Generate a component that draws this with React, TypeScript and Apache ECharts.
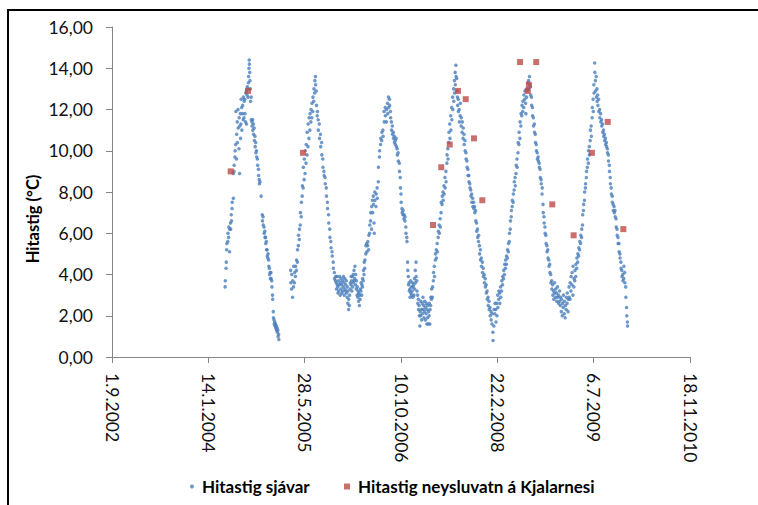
import React, { useEffect, useRef } from "react";
import * as echarts from "echarts";

// Axis range in Excel-style serial days (1.9.2002 = 37500, 18.11.2010 = 40500)
const X_MIN_DATE = "2002-09-01";
const X_MAX_DATE = "2010-11-18";
const X_STEP_DAYS = 500;
const Y_MIN = 0;
const Y_MAX = 16;
const Y_STEP = 2;

const SEA_NAME = "Hitastig sjávar";
const FRESH_NAME = "Hitastig neysluvatn á Kjalarnesi";
const Y_TITLE = "Hitastig (°C)";

// Sea temperature: each row is a start date followed by readings on consecutive days
const SEA_2004 = [
  ["2004-04-10", 3.4, 3.7], ["2004-04-15", 4.3, 4.6], ["2004-04-18", 5.2, 5.5],
  ["2004-04-24", 5.6, 6.0], ["2004-04-28", 5.8, 6.3], ["2004-05-03", 5.1, 6.2],
  ["2004-05-08", 6.5, 6.2], ["2004-05-12", 6.9, 6.6], ["2004-05-16", 7.2, 7.5],
  ["2004-05-22", 8.9, 7.7], ["2004-05-26", 9.0, 9.3], ["2004-05-31", 9.7, 10.0],
  ["2004-06-04", 10.3, 11.9], ["2004-06-08", 9.6, 10.8], ["2004-06-12", 11.4, 10.4],
  ["2004-06-16", 12.0, 11.1], ["2004-06-21", 10.1, 11.6], ["2004-06-24", 8.9, 11.2],
  ["2004-06-28", 11.8, 10.6], ["2004-07-01", 11.3, 12.5], ["2004-07-05", 12.1, 11.0],
  ["2004-07-09", 11.8, 12.2], ["2004-07-13", 11.5, 12.6], ["2004-07-17", 11.6, 12.4],
  ["2004-07-21", 12.5, 11.8], ["2004-07-25", 11.4, 12.8], ["2004-07-29", 12.9, 11.3],
  ["2004-08-02", 12.7, 13.1], ["2004-08-06", 13.0, 12.6], ["2004-08-09", 13.3, 13.6],
  ["2004-08-12", 14.0, 14.4, 14.2], ["2004-08-16", 13.8, 13.4], ["2004-08-19", 13.0, 12.4],
  ["2004-08-23", 12.6, 11.5], ["2004-08-27", 11.4, 11.2], ["2004-08-31", 11.5, 11.0],
  ["2004-09-04", 11.3, 10.8], ["2004-09-08", 11.1, 10.5], ["2004-09-12", 10.7, 10.2],
  ["2004-09-16", 10.4, 9.9], ["2004-09-20", 10.0, 9.7], ["2004-09-25", 9.6, 9.3],
  ["2004-09-30", 9.1, 8.8], ["2004-10-04", 8.6, 8.4], ["2004-10-08", 8.5],
  ["2004-10-14", 7.8], ["2004-10-20", 6.9, 6.6], ["2004-10-24", 6.8, 6.4],
  ["2004-10-29", 6.3, 6.0], ["2004-11-02", 6.1, 5.8], ["2004-11-06", 5.8, 5.5],
  ["2004-11-10", 5.6, 5.2], ["2004-11-14", 5.2, 4.9], ["2004-11-18", 4.8, 5.0],
  ["2004-11-22", 4.7, 4.4], ["2004-11-26", 4.3, 4.0], ["2004-11-30", 4.1, 3.8],
  ["2004-12-04", 4.1, 3.8], ["2004-12-08", 3.7, 3.4], ["2004-12-12", 3.0, 2.8],
  ["2004-12-16", 2.2, 1.9], ["2004-12-20", 1.8, 1.6], ["2004-12-24", 1.7, 1.5],
  ["2004-12-28", 1.6, 1.4], ["2005-01-01", 1.5, 1.3], ["2005-01-05", 1.4, 1.2],
  ["2005-01-09", 1.3, 1.0], ["2005-01-13", 1.1, 0.85],
];

const SEA_2005 = [
  ["2005-03-16", 4.2, 3.6], ["2005-03-21", 3.3, 4.0], ["2005-03-26", 2.9, 3.7],
  ["2005-03-31", 3.4, 4.4], ["2005-04-05", 3.6, 4.1], ["2005-04-10", 3.9, 4.4],
  ["2005-04-15", 4.2, 4.7], ["2005-04-20", 4.6, 5.2], ["2005-04-25", 5.4, 5.9],
  ["2005-04-30", 5.7, 6.2], ["2005-05-05", 6.4, 7.0], ["2005-05-10", 6.8, 7.5],
  ["2005-05-15", 7.8, 8.3], ["2005-05-20", 8.2, 9.2], ["2005-05-25", 8.6, 9.6],
  ["2005-05-30", 8.9, 10.0], ["2005-06-04", 9.4, 10.3], ["2005-06-09", 9.8, 10.9],
  ["2005-06-14", 10.2, 11.3], ["2005-06-19", 10.6, 11.6], ["2005-06-24", 11.0, 11.8],
  ["2005-06-29", 11.4, 12.0], ["2005-07-04", 11.6, 12.3], ["2005-07-09", 11.9, 12.6],
  ["2005-07-14", 12.4, 13.0], ["2005-07-19", 12.8, 13.4], ["2005-07-23", 13.6, 13.2],
  ["2005-07-27", 12.9, 12.2], ["2005-08-01", 11.7, 11.9], ["2005-08-06", 11.5, 11.0],
  ["2005-08-12", 11.3, 10.6], ["2005-08-18", 10.8, 10.2], ["2005-08-24", 10.4, 9.8],
  ["2005-08-30", 9.6, 9.2], ["2005-09-05", 9.0, 8.8], ["2005-09-11", 8.7, 8.4],
  ["2005-09-17", 8.2, 7.8], ["2005-09-23", 7.5, 7.2], ["2005-09-29", 6.9, 6.5],
  ["2005-10-05", 6.2, 5.8], ["2005-10-11", 5.6, 5.3], ["2005-10-17", 5.1, 4.9],
  ["2005-10-23", 4.6, 4.3], ["2005-10-29", 4.1, 3.8],
  ["2005-11-04", 3.7, 3.9], ["2005-11-08", 3.6, 3.3], ["2005-11-12", 3.9, 3.5],
  ["2005-11-16", 3.4, 3.1], ["2005-11-20", 3.7, 3.2], ["2005-11-24", 3.5, 3.9],
  ["2005-11-28", 3.0, 3.6], ["2005-12-02", 3.3, 3.8], ["2005-12-06", 3.5, 3.1],
  ["2005-12-10", 3.7, 3.2], ["2005-12-14", 3.4, 3.9], ["2005-12-18", 3.6, 3.0],
  ["2005-12-22", 3.8, 3.3], ["2005-12-26", 3.2, 3.5], ["2005-12-30", 3.7, 3.1],
  ["2006-01-03", 2.9, 3.4], ["2006-01-07", 2.6, 3.2], ["2006-01-11", 2.3, 2.8],
  ["2006-01-15", 2.5, 3.0], ["2006-01-19", 3.3, 3.6], ["2006-01-23", 3.5, 3.9],
  ["2006-01-27", 3.7, 3.2], ["2006-01-31", 3.9, 3.4], ["2006-02-04", 4.0, 3.6],
  ["2006-02-08", 4.2, 3.7], ["2006-02-12", 3.8, 4.4], ["2006-02-16", 3.5, 4.0],
  ["2006-02-20", 3.3, 3.7], ["2006-02-24", 3.0, 3.4], ["2006-02-28", 2.9, 3.2],
  ["2006-03-04", 2.7, 3.1], ["2006-03-08", 2.5, 3.0], ["2006-03-12", 2.8, 3.3],
  ["2006-03-16", 3.2, 3.6], ["2006-03-20", 3.0, 3.5], ["2006-03-24", 3.4, 3.8],
  ["2006-03-28", 3.7, 4.2], ["2006-04-01", 4.0, 4.6],
];

const SEA_2006 = [
  ["2006-04-05", 4.3, 4.7], ["2006-04-10", 5.0, 5.4], ["2006-04-15", 5.5, 5.1],
  ["2006-04-20", 5.4, 5.6], ["2006-04-25", 5.2, 5.9], ["2006-04-30", 6.0, 6.4],
  ["2006-05-05", 6.6, 7.0], ["2006-05-10", 6.2, 7.3], ["2006-05-15", 7.6, 7.0],
  ["2006-05-19", 7.8, 7.4], ["2006-05-23", 6.5, 6.0], ["2006-05-27", 8.0, 7.6],
  ["2006-06-02", 7.3, 7.9], ["2006-06-08", 8.2, 7.7], ["2006-06-14", 8.5, 9.2],
  ["2006-06-20", 9.7, 10.0], ["2006-06-26", 10.3, 10.6], ["2006-07-02", 10.5, 10.9],
  ["2006-07-08", 11.0, 10.7], ["2006-07-14", 11.9, 11.4], ["2006-07-20", 12.1, 11.7],
  ["2006-07-26", 11.4, 12.0], ["2006-08-01", 12.3, 11.8], ["2006-08-06", 12.6, 12.1],
  ["2006-08-11", 12.5, 12.2], ["2006-08-16", 11.9, 11.6], ["2006-08-21", 11.4, 11.0],
  ["2006-08-26", 11.2, 10.8], ["2006-08-31", 10.9, 10.6], ["2006-09-05", 10.7, 10.4],
  ["2006-09-10", 10.5, 10.3], ["2006-09-15", 10.6, 10.2], ["2006-09-20", 10.1, 9.8],
  ["2006-09-25", 9.9, 9.5], ["2006-10-01", 9.4, 9.0], ["2006-10-06", 8.7, 8.2],
  ["2006-10-10", 7.9, 7.5], ["2006-10-15", 7.2, 7.0], ["2006-10-20", 6.9, 7.1],
  ["2006-10-25", 6.7, 6.9], ["2006-10-30", 6.6, 6.8], ["2006-11-04", 6.3, 6.0],
  ["2006-11-09", 5.8, 5.6], ["2006-11-13", 4.6, 4.2], ["2006-11-17", 3.9, 3.5],
  ["2006-11-21", 3.6, 3.2], ["2006-11-25", 3.3, 2.9], ["2006-11-29", 3.7, 3.1],
  ["2006-12-03", 3.4, 3.0], ["2006-12-07", 3.2, 3.6], ["2006-12-11", 2.9, 3.4],
  ["2006-12-15", 3.5, 3.0], ["2006-12-19", 3.8, 3.3], ["2006-12-23", 4.2, 3.6],
  ["2006-12-27", 4.6, 3.9], ["2006-12-31", 3.7, 3.2], ["2007-01-04", 3.0, 2.6],
  ["2007-01-08", 2.8, 2.3], ["2007-01-12", 2.5, 2.0], ["2007-01-16", 1.5, 2.2],
  ["2007-01-20", 2.0, 2.7], ["2007-01-24", 2.3, 1.8], ["2007-01-28", 2.6, 2.1],
  ["2007-02-01", 2.9, 2.3], ["2007-02-05", 2.5, 1.9], ["2007-02-09", 2.2, 2.7],
  ["2007-02-13", 1.8, 2.4], ["2007-02-17", 2.1, 2.6], ["2007-02-21", 1.6, 2.3],
  ["2007-02-25", 1.9, 2.5], ["2007-03-01", 1.6, 2.2], ["2007-03-05", 2.0, 2.6],
  ["2007-03-09", 1.6, 2.3], ["2007-03-13", 2.5, 2.9], ["2007-03-17", 2.8, 3.3],
];

const SEA_2007 = [
  ["2007-03-22", 2.9, 3.4], ["2007-03-27", 3.7, 4.1], ["2007-04-01", 4.4, 3.9],
  ["2007-04-06", 4.7, 5.0], ["2007-04-11", 5.2, 4.8], ["2007-04-16", 5.5, 5.1],
  ["2007-04-21", 5.8, 6.1], ["2007-04-26", 6.4, 6.0], ["2007-05-01", 6.7, 6.3],
  ["2007-05-06", 7.0, 7.5], ["2007-05-11", 7.4, 7.8], ["2007-05-16", 8.0, 7.6],
  ["2007-05-21", 8.3, 7.9], ["2007-05-26", 8.7, 8.2], ["2007-05-31", 9.0, 8.5],
  ["2007-06-05", 9.4, 9.8], ["2007-06-10", 10.1, 9.6], ["2007-06-15", 10.4, 10.9],
  ["2007-06-20", 11.3, 10.6], ["2007-06-25", 11.7, 11.0], ["2007-06-30", 12.1, 11.5],
  ["2007-07-05", 12.6, 12.0], ["2007-07-10", 13.0, 12.4], ["2007-07-14", 13.4, 12.8],
  ["2007-07-18", 13.8, 13.2], ["2007-07-22", 14.15, 13.6], ["2007-07-26", 13.5, 12.9],
  ["2007-07-30", 12.6, 12.2], ["2007-08-03", 12.5, 11.9], ["2007-08-08", 12.0, 11.4],
  ["2007-08-13", 11.7, 12.3], ["2007-08-18", 11.2, 11.6], ["2007-08-23", 10.9, 11.4],
  ["2007-08-28", 10.6, 11.1], ["2007-09-02", 10.8, 10.3], ["2007-09-07", 10.5, 10.0],
  ["2007-09-12", 9.9, 9.6], ["2007-09-17", 9.5, 9.2], ["2007-09-22", 9.1, 8.8],
  ["2007-09-27", 8.8, 8.5], ["2007-10-02", 8.4, 8.2], ["2007-10-07", 8.1, 7.8],
  ["2007-10-12", 7.9, 7.5], ["2007-10-17", 7.7, 7.3], ["2007-10-22", 7.5, 7.2],
  ["2007-10-27", 7.3, 7.0], ["2007-11-01", 7.1, 6.6], ["2007-11-06", 6.5, 6.1],
  ["2007-11-11", 6.2, 5.8], ["2007-11-16", 5.6, 5.9], ["2007-11-21", 5.4, 5.0],
  ["2007-11-26", 5.2, 4.7], ["2007-12-01", 4.8, 4.4], ["2007-12-06", 4.6, 4.1],
  ["2007-12-11", 4.3, 3.9], ["2007-12-16", 4.0, 3.6], ["2007-12-21", 3.8, 3.4],
  ["2007-12-26", 3.5, 3.1], ["2007-12-31", 3.2, 2.8], ["2008-01-05", 2.9, 2.5],
  ["2008-01-10", 2.7, 2.3], ["2008-01-15", 2.4, 2.0], ["2008-01-20", 2.2, 1.8],
  ["2008-01-25", 1.6, 2.1], ["2008-01-30", 1.2, 0.8], ["2008-02-04", 1.5, 2.3],
  ["2008-02-09", 2.1, 2.6],
];

const SEA_2008 = [
  ["2008-02-14", 2.3, 1.7], ["2008-02-19", 2.6, 2.0], ["2008-02-24", 3.0, 2.4],
  ["2008-02-29", 2.8, 3.2], ["2008-03-05", 3.1, 2.6], ["2008-03-10", 3.4, 2.9],
  ["2008-03-15", 3.2, 3.7], ["2008-03-20", 3.5, 3.9], ["2008-03-25", 3.8, 4.2],
  ["2008-03-30", 4.0, 4.5], ["2008-04-04", 4.3, 4.7], ["2008-04-09", 4.5, 4.9],
  ["2008-04-14", 4.8, 5.2], ["2008-04-19", 5.1, 5.5], ["2008-04-24", 5.6, 6.0],
  ["2008-04-29", 6.2, 6.6], ["2008-05-04", 6.8, 7.1], ["2008-05-09", 7.3, 7.6],
  ["2008-05-14", 7.5, 7.9], ["2008-05-19", 8.1, 8.5], ["2008-05-24", 8.7, 8.3],
  ["2008-05-29", 8.9, 9.3], ["2008-06-03", 9.6, 9.2], ["2008-06-08", 9.9, 10.4],
  ["2008-06-13", 10.3, 10.9], ["2008-06-18", 10.6, 11.4], ["2008-06-23", 11.2, 11.8],
  ["2008-06-28", 11.7, 12.2], ["2008-07-03", 11.9, 12.4], ["2008-07-08", 12.1, 12.7],
  ["2008-07-13", 12.5, 12.9], ["2008-07-18", 12.3, 11.8], ["2008-07-23", 12.6, 13.0],
  ["2008-07-28", 12.9, 13.3], ["2008-08-02", 13.4, 13.0], ["2008-08-07", 13.6, 13.2],
  ["2008-08-12", 13.1, 12.7], ["2008-08-17", 12.6, 12.2], ["2008-08-22", 12.1, 11.7],
  ["2008-08-27", 11.6, 11.2], ["2008-09-01", 11.3, 10.9], ["2008-09-06", 10.8, 10.4],
  ["2008-09-11", 10.3, 10.0], ["2008-09-16", 9.9, 9.6], ["2008-09-21", 9.7, 9.5],
  ["2008-09-26", 9.4, 9.2], ["2008-10-01", 9.1, 8.7], ["2008-10-06", 8.6, 8.4],
  ["2008-10-11", 7.9, 8.2], ["2008-10-16", 7.4, 7.0], ["2008-10-21", 6.8, 6.5],
  ["2008-10-26", 6.3, 6.0], ["2008-10-31", 5.9, 5.5], ["2008-11-05", 5.4, 5.1],
  ["2008-11-10", 5.2, 4.8], ["2008-11-15", 4.7, 4.4], ["2008-11-20", 4.5, 4.1],
  ["2008-11-25", 4.0, 3.6], ["2008-11-30", 3.7, 3.3], ["2008-12-05", 3.5, 3.0],
  ["2008-12-10", 3.2, 2.8], ["2008-12-15", 3.6, 3.1], ["2008-12-20", 2.9, 3.3],
  ["2008-12-25", 3.1, 2.7], ["2008-12-30", 3.4, 2.9], ["2009-01-04", 3.0, 2.6],
  ["2009-01-09", 2.7, 3.2], ["2009-01-14", 2.5, 2.9], ["2009-01-19", 2.2, 2.8],
  ["2009-01-24", 2.0, 2.6], ["2009-01-29", 2.4, 3.0], ["2009-02-03", 2.1, 2.7],
  ["2009-02-08", 1.9, 2.5], ["2009-02-13", 2.3, 2.9], ["2009-02-18", 2.6, 3.1],
  ["2009-02-23", 2.2, 2.8], ["2009-02-28", 3.4, 2.9], ["2009-03-05", 2.8, 3.6],
  ["2009-03-10", 3.2, 3.9], ["2009-03-15", 3.5, 4.1], ["2009-03-20", 3.0, 4.4],
  ["2009-03-25", 3.4, 3.8],
];

const SEA_2009 = [
  ["2009-03-30", 3.7, 4.2], ["2009-04-04", 3.9, 4.5], ["2009-04-09", 4.3, 4.8],
  ["2009-04-14", 4.6, 5.0], ["2009-04-19", 4.9, 5.3], ["2009-04-24", 5.2, 5.6],
  ["2009-04-29", 5.5, 5.9], ["2009-05-04", 5.8, 6.2], ["2009-05-09", 6.4, 6.9],
  ["2009-05-14", 7.1, 7.4], ["2009-05-19", 7.6, 8.0], ["2009-05-24", 8.2, 8.4],
  ["2009-05-29", 8.7, 9.0], ["2009-06-03", 9.2, 9.6], ["2009-06-08", 9.4, 10.0],
  ["2009-06-13", 10.2, 9.8], ["2009-06-18", 10.5, 11.0], ["2009-06-23", 11.2, 10.7],
  ["2009-06-28", 11.6, 12.1], ["2009-07-03", 12.5, 11.9], ["2009-07-07", 13.2, 12.8],
  ["2009-07-11", 14.25, 13.8], ["2009-07-15", 13.4, 12.9], ["2009-07-19", 13.6, 12.6],
  ["2009-07-23", 13.0, 12.4], ["2009-07-27", 12.7, 12.2], ["2009-08-01", 12.5, 11.9],
  ["2009-08-06", 12.0, 11.6], ["2009-08-11", 11.8, 11.4], ["2009-08-16", 11.5, 11.2],
  ["2009-08-21", 11.3, 10.9], ["2009-08-26", 11.0, 10.7], ["2009-08-31", 10.8, 10.5],
  ["2009-09-05", 10.6, 10.3], ["2009-09-10", 10.4, 10.2], ["2009-09-15", 10.1, 9.9],
  ["2009-09-20", 9.8, 9.5], ["2009-09-25", 9.3, 9.0], ["2009-09-30", 8.7, 8.4],
  ["2009-10-05", 8.2, 7.9], ["2009-10-10", 7.8, 7.5], ["2009-10-15", 7.4, 7.1],
  ["2009-10-20", 7.3, 7.0], ["2009-10-25", 7.1, 6.8], ["2009-10-30", 6.7, 6.3],
  ["2009-11-04", 6.2, 5.9], ["2009-11-09", 5.8, 5.5], ["2009-11-14", 5.5, 5.1],
  ["2009-11-19", 5.0, 4.8], ["2009-11-24", 4.6, 4.3], ["2009-11-29", 4.2, 3.9],
  ["2009-12-04", 4.0, 3.7], ["2009-12-09", 3.8, 4.4], ["2009-12-14", 4.1, 3.6],
  ["2009-12-19", 3.4, 2.9], ["2009-12-24", 2.4, 2.0], ["2009-12-28", 1.7, 1.5],
];

// Drinking water temperature at Kjalarnes: sampling dates and values
const FRESH_DATES = [
  "2004-05-09", "2004-08-07", "2005-05-19", "2007-03-25", "2007-05-07",
  "2007-06-20", "2007-08-02", "2007-09-11", "2007-10-24", "2007-12-06",
  "2008-06-19", "2008-07-29", "2008-08-04", "2008-09-11", "2008-12-03",
  "2009-03-24", "2009-06-27", "2009-09-17", "2009-12-07",
];
const FRESH_VALUES = [
  9.0, 12.9, 9.9, 6.4, 9.2,
  10.3, 12.9, 12.5, 10.6, 7.6,
  14.3, 12.9, 13.2, 14.3, 7.4,
  5.9, 9.9, 11.4, 6.2,
];

const DAY_MS = 86400000;
const SERIAL_EPOCH = Date.UTC(1899, 11, 30);

function toSerial(iso: string): number {
  const [y, m, d] = iso.split("-").map(Number);
  return Math.round((Date.UTC(y, m - 1, d) - SERIAL_EPOCH) / DAY_MS);
}

function serialLabel(serial: number): string {
  const dt = new Date(SERIAL_EPOCH + Math.round(serial) * DAY_MS);
  return `${dt.getUTCDate()}.${dt.getUTCMonth() + 1}.${dt.getUTCFullYear()}`;
}

function expandRows(rows: (string | number)[][]): number[][] {
  const out: number[][] = [];
  rows.forEach(([date, ...vals]) => {
    const start = toSerial(date as string);
    vals.forEach((v, i) => out.push([start + i, v as number]));
  });
  return out;
}

const FONT = "Lato, 'Open Sans', sans-serif";
const AXIS_GREY = "#868686";
const LABEL_SIZE = 17.5;

export default function App() {
  const ref = useRef<HTMLDivElement>(null);

  useEffect(() => {
    if (!ref.current) return;
    const chart = echarts.init(ref.current, undefined, { renderer: "svg" });

    const seaPoints = expandRows([
      ...SEA_2004, ...SEA_2005, ...SEA_2006, ...SEA_2007, ...SEA_2008, ...SEA_2009,
    ]);
    const freshPoints = FRESH_DATES.map((d, i) => [toSerial(d), FRESH_VALUES[i]]);

    const legendText = {
      fontFamily: FONT,
      fontSize: 17,
      fontWeight: "bold" as const,
      color: "#000",
      lineHeight: 17,
      padding: [0, 0, 0, 3],
    };

    chart.setOption({
      animation: false,
      textStyle: { fontFamily: FONT },
      grid: { left: 112, right: 68, top: 27, bottom: 148, containLabel: false },
      xAxis: {
        type: "value",
        min: toSerial(X_MIN_DATE),
        max: toSerial(X_MAX_DATE),
        interval: X_STEP_DAYS,
        axisLine: { show: true, lineStyle: { color: AXIS_GREY, width: 1 } },
        axisTick: { show: true, length: 6, lineStyle: { color: AXIS_GREY } },
        splitLine: { show: false },
        axisLabel: {
          rotate: -90,
          margin: 16,
          fontSize: LABEL_SIZE,
          fontFamily: FONT,
          color: "#111",
          formatter: (v: number) => serialLabel(v),
        },
      },
      yAxis: {
        type: "value",
        min: Y_MIN,
        max: Y_MAX,
        interval: Y_STEP,
        axisLine: { show: true, lineStyle: { color: AXIS_GREY, width: 1 } },
        axisTick: { show: true, length: 6, lineStyle: { color: AXIS_GREY } },
        splitLine: { show: false },
        axisLabel: {
          margin: 19,
          fontSize: LABEL_SIZE,
          fontFamily: FONT,
          color: "#111",
          formatter: (v: number) => v.toFixed(2).replace(".", ","),
        },
      },
      legend: [
        {
          data: [{ name: SEA_NAME, icon: "circle" }],
          left: 190,
          top: 478,
          padding: 0,
          itemWidth: 4,
          itemHeight: 4,
          selectedMode: false,
          textStyle: legendText,
        },
        {
          data: [{ name: FRESH_NAME, icon: "rect" }],
          left: 344,
          top: 478,
          padding: 0,
          itemWidth: 6,
          itemHeight: 6,
          selectedMode: false,
          textStyle: legendText,
        },
      ],
      graphic: [
        {
          type: "rect",
          shape: { x: 8, y: 10, width: 1000, height: 1000 },
          style: { fill: "none", stroke: "#000", lineWidth: 2 },
          silent: true,
        },
        {
          type: "text",
          x: 33,
          y: 219,
          rotation: Math.PI / 2,
          style: {
            text: Y_TITLE,
            fontFamily: FONT,
            fontSize: 16.5,
            fontWeight: "bold",
            fill: "#000",
            align: "center",
            verticalAlign: "middle",
          },
          silent: true,
        },
      ],
      series: [
        {
          type: "scatter",
          name: SEA_NAME,
          data: seaPoints,
          symbol: "circle",
          symbolSize: 3.5,
          itemStyle: { color: "#4A7EBB" },
          z: 2,
        },
        {
          type: "scatter",
          name: FRESH_NAME,
          data: freshPoints,
          symbol: "rect",
          symbolSize: 6,
          itemStyle: { color: "#BE4B48" },
          z: 3,
        },
      ],
    });

    return () => chart.dispose();
  }, []);

  return (
    <div
      ref={ref}
      style={{ position: "fixed", left: 0, top: 0, width: 758, height: 505, background: "#fff" }}
    />
  );
}
